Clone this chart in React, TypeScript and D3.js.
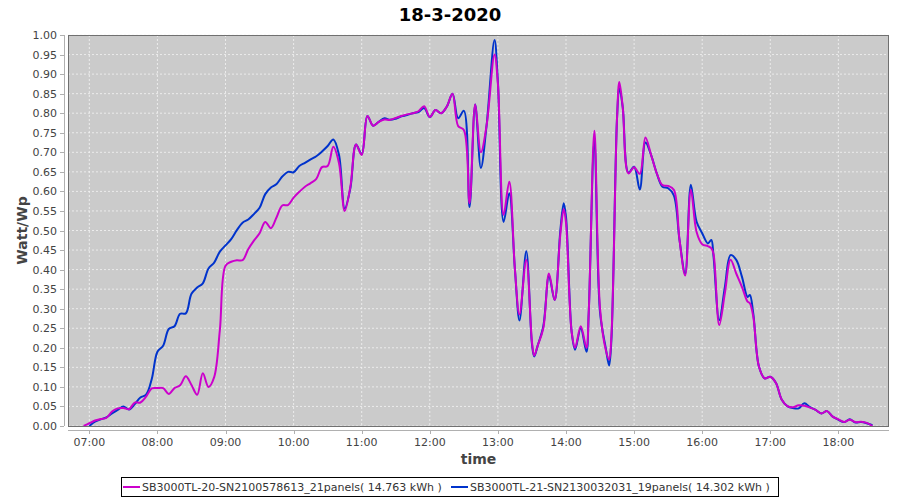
import React from "react";
import * as d3 from "d3";

const chartTitle = "18-3-2020";
const xAxisLabel = "time";
const yAxisLabel = "Watt/Wp";
const seriesNames = [
  "SB3000TL-20-SN2100578613_21panels( 14.763 kWh )",
  "SB3000TL-21-SN2130032031_19panels( 14.302 kWh )",
];
const seriesColors = ["#cc00cc", "#0033cc"];
const hourLabels = ["07:00", "08:00", "09:00", "10:00", "11:00", "12:00", "13:00", "14:00", "15:00", "16:00", "17:00", "18:00"];

const times = [
  "06:55", "07:00", "07:05", "07:10", "07:15", "07:20", "07:25", "07:30", "07:35", "07:40", "07:45", "07:50", "07:55",
  "08:00", "08:05", "08:10", "08:15", "08:20", "08:25", "08:30", "08:35", "08:40", "08:45", "08:50", "08:55",
  "09:00", "09:05", "09:10", "09:15", "09:20", "09:25", "09:30", "09:35", "09:40", "09:45", "09:50", "09:55",
  "10:00", "10:05", "10:10", "10:15", "10:20", "10:25", "10:30", "10:35", "10:40", "10:45", "10:50", "10:55",
  "11:00", "11:05", "11:10", "11:15", "11:20", "11:25", "11:30", "11:35", "11:40", "11:45", "11:50", "11:55",
  "12:00", "12:05", "12:10", "12:15", "12:20", "12:25", "12:30", "12:35", "12:40", "12:45", "12:50", "12:57",
  "13:00", "13:05", "13:10", "13:15", "13:19", "13:25", "13:30", "13:32", "13:35", "13:40", "13:45", "13:50", "13:55", "13:58",
  "14:00", "14:05", "14:08", "14:13", "14:18", "14:20", "14:25", "14:30", "14:35", "14:38", "14:40", "14:45", "14:47", "14:50", "14:55",
  "15:00", "15:05", "15:10", "15:15", "15:20", "15:25", "15:30", "15:35", "15:40", "15:45", "15:50", "15:55",
  "16:00", "16:05", "16:08", "16:10", "16:15", "16:20", "16:25", "16:30", "16:35", "16:40", "16:42", "16:45", "16:50", "16:55",
  "17:00", "17:05", "17:10", "17:15", "17:20", "17:25", "17:30", "17:35", "17:40", "17:45", "17:50", "17:55",
  "18:00", "18:05", "18:10", "18:15", "18:20", "18:25", "18:30",
];

// SB3000TL-20 (magenta)
const panels21Values = [
  0.000, 0.007, 0.014, 0.018, 0.021, 0.037, 0.045, 0.046, 0.043, 0.060, 0.060, 0.075, 0.096,
  0.097, 0.097, 0.082, 0.097, 0.104, 0.127, 0.105, 0.080, 0.135, 0.100, 0.125, 0.245,
  0.410, 0.420, 0.424, 0.424, 0.452, 0.474, 0.493, 0.522, 0.506, 0.534, 0.564, 0.565,
  0.584, 0.599, 0.612, 0.621, 0.632, 0.662, 0.665, 0.714, 0.672, 0.550, 0.612, 0.720,
  0.693, 0.793, 0.768, 0.778, 0.784, 0.783, 0.788, 0.793, 0.797, 0.800, 0.805, 0.818,
  0.790, 0.808, 0.800, 0.817, 0.850, 0.767, 0.757, 0.570, 0.822, 0.700, 0.768, 0.950,
  0.875, 0.540, 0.625, 0.400, 0.285, 0.425, 0.215, 0.180, 0.205, 0.250, 0.390, 0.322, 0.490, 0.555,
  0.520, 0.240, 0.200, 0.255, 0.200, 0.288, 0.755, 0.300, 0.195, 0.170, 0.230, 0.790, 0.880, 0.815, 0.646,
  0.662, 0.645, 0.738, 0.693, 0.646, 0.616, 0.614, 0.604, 0.476, 0.385, 0.604, 0.497,
  0.465, 0.460, 0.455, 0.440, 0.258, 0.340, 0.425, 0.390, 0.356, 0.318, 0.314, 0.280, 0.152, 0.122,
  0.126, 0.110, 0.068, 0.051, 0.048, 0.053, 0.052, 0.047, 0.041, 0.032, 0.038, 0.024,
  0.017, 0.010, 0.016, 0.010, 0.011, 0.008, 0.000,
];

// SB3000TL-21 (blue)
const panels19Values = [
  null, 0.000, 0.011, 0.017, 0.022, 0.032, 0.041, 0.050, 0.042, 0.056, 0.073, 0.080, 0.120,
  0.190, 0.205, 0.248, 0.255, 0.287, 0.288, 0.338, 0.354, 0.365, 0.403, 0.418, 0.446,
  0.462, 0.478, 0.501, 0.520, 0.528, 0.542, 0.558, 0.593, 0.610, 0.619, 0.638, 0.650,
  0.649, 0.665, 0.673, 0.682, 0.690, 0.702, 0.716, 0.733, 0.693, 0.556, 0.608, 0.720,
  0.695, 0.793, 0.768, 0.778, 0.787, 0.783, 0.786, 0.792, 0.795, 0.800, 0.803, 0.813,
  0.790, 0.808, 0.800, 0.817, 0.850, 0.787, 0.806, 0.560, 0.822, 0.660, 0.768, 0.987,
  0.880, 0.522, 0.595, 0.400, 0.270, 0.447, 0.210, 0.178, 0.205, 0.255, 0.384, 0.322, 0.500, 0.570,
  0.535, 0.240, 0.195, 0.250, 0.190, 0.288, 0.730, 0.290, 0.200, 0.155, 0.220, 0.790, 0.865, 0.815, 0.648,
  0.663, 0.605, 0.725, 0.693, 0.646, 0.612, 0.608, 0.590, 0.476, 0.390, 0.617, 0.523,
  0.493, 0.467, 0.476, 0.433, 0.271, 0.356, 0.437, 0.425, 0.382, 0.330, 0.335, 0.288, 0.152, 0.122,
  0.126, 0.110, 0.068, 0.051, 0.046, 0.045, 0.058, 0.048, 0.041, 0.032, 0.038, 0.024,
  0.016, 0.010, 0.017, 0.009, 0.010, 0.007, 0.002,
];

const FONT = "'DejaVu Sans', sans-serif";
const W = 900;
const H = 500;
const PL = 68, PR = 889, PT = 35, PB = 426;

const toMin = (s: string) => {
  const [h, m] = s.split(":").map(Number);
  return h * 60 + m;
};

export default function App() {
  const x = d3.scaleLinear().domain([401.2, 1124.6]).range([PL, PR]);
  const y = d3.scaleLinear().domain([0, 1]).range([PB, PT]);
  const yTicks = y.ticks(20);

  const makeLine = (vals: (number | null)[]) => {
    const pts = times.map((t, i) => [toMin(t), vals[i]] as [number, number | null]);
    const gen = d3
      .line<[number, number | null]>()
      .defined((d) => d[1] != null)
      .x((d) => x(d[0]))
      .y((d) => y(d[1] as number))
      .curve(d3.curveCatmullRom.alpha(0.5));
    return gen(pts) || "";
  };

  const series = [
    { name: seriesNames[1], color: seriesColors[1], vals: panels19Values },
    { name: seriesNames[0], color: seriesColors[0], vals: panels21Values },
  ];

  return (
    <svg
      width={W}
      height={H}
      style={{ position: "absolute", left: 0, top: 0, background: "#fff" }}
      fontFamily={FONT}
    >
      <rect x={0} y={0} width={W} height={H} fill="#fff" />
      <text x={450} y={21} textAnchor="middle" fontSize={18} fontWeight="bold" fill="#000">
        {chartTitle}
      </text>
      <rect x={PL} y={PT} width={PR - PL} height={PB - PT} fill="#cbcbcb" />
      {yTicks.map((t) => (
        <line key={"gy" + t} x1={PL} x2={PR} y1={y(t)} y2={y(t)} stroke="#f4f4f4" strokeWidth={0.8} strokeDasharray="2,2" />
      ))}
      {hourLabels.map((h) => (
        <line key={"gx" + h} x1={x(toMin(h))} x2={x(toMin(h))} y1={PT} y2={PB} stroke="#f4f4f4" strokeWidth={0.8} strokeDasharray="2,2" />
      ))}
      <defs>
        <clipPath id="clip">
          <rect x={PL} y={PT - 2} width={PR - PL} height={PB - PT + 2} />
        </clipPath>
      </defs>
      <g clipPath="url(#clip)">
        {series.map((s) => (
          <path key={s.name} d={makeLine(s.vals)} fill="none" stroke={s.color} strokeWidth={2} strokeLinejoin="round" />
        ))}
      </g>
      <rect x={PL + 0.5} y={PT + 0.5} width={PR - PL - 1} height={PB - PT} fill="none" stroke="#707070" strokeWidth={1} />
      <line x1={64.5} x2={64.5} y1={PT} y2={PB} stroke="#b0b0b0" />
      {yTicks.map((t) => (
        <g key={"yt" + t}>
          <line x1={60} x2={64} y1={Math.round(y(t)) + 0.5} y2={Math.round(y(t)) + 0.5} stroke="#b0b0b0" />
          <text x={57} y={y(t) + 4} textAnchor="end" fontSize={11} fill="#444">
            {t.toFixed(2)}
          </text>
        </g>
      ))}
      <line x1={PL} x2={PR} y1={430.5} y2={430.5} stroke="#b0b0b0" />
      {hourLabels.map((h) => (
        <g key={"xt" + h}>
          <line x1={Math.round(x(toMin(h))) + 0.5} x2={Math.round(x(toMin(h))) + 0.5} y1={430} y2={434} stroke="#b0b0b0" />
          <text x={x(toMin(h))} y={446} textAnchor="middle" fontSize={11} fill="#444">
            {h}
          </text>
        </g>
      ))}
      <text x={(PL + PR) / 2} y={464} textAnchor="middle" fontSize={14} fontWeight="bold" fill="#444">
        {xAxisLabel}
      </text>
      <text transform={`translate(27, ${(PT + PB) / 2}) rotate(-90)`} textAnchor="middle" fontSize={14} fontWeight="bold" fill="#444">
        {yAxisLabel}
      </text>
      <rect x={121.5} y={477.5} width={657} height={19} fill="#fff" stroke="#000" strokeWidth={1} />
      {[
        { name: seriesNames[0], color: seriesColors[0], lx: 123, tx: 142 },
        { name: seriesNames[1], color: seriesColors[1], lx: 451, tx: 470 },
      ].map((it) => (
        <g key={it.name}>
          <line x1={it.lx} x2={it.lx + 17} y1={487} y2={487} stroke={it.color} strokeWidth={2} />
          <rect x={it.lx + 7.5} y={486} width={2} height={2} fill={it.color} />
          <text x={it.tx} y={491} fontSize={11} fill="#333">
            {it.name}
          </text>
        </g>
      ))}
    </svg>
  );
}
